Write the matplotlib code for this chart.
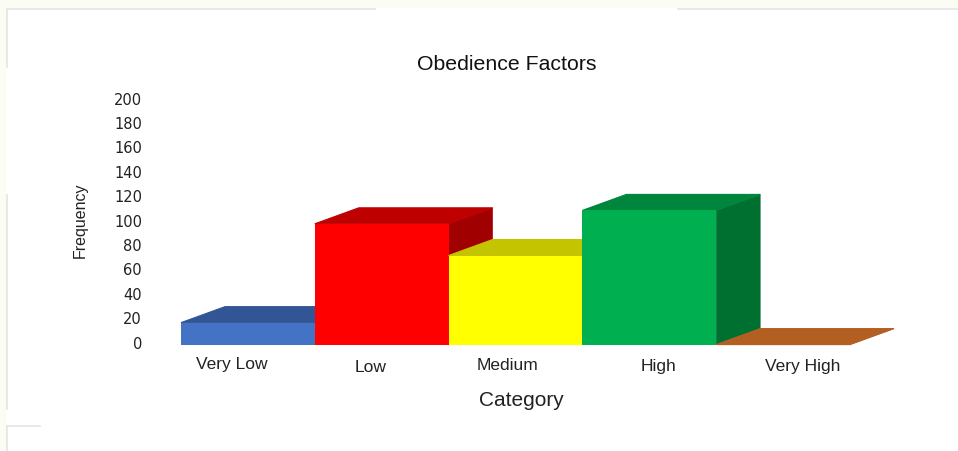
import matplotlib
matplotlib.use('Agg')
import matplotlib.pyplot as plt
from matplotlib.lines import Line2D
from matplotlib.patches import Polygon, Rectangle
from matplotlib.transforms import ScaledTranslation

categories = ['Very Low', 'Low', 'Medium', 'High', 'Very High']
values = [18, 99, 73, 110, 0]
y_ticks = list(range(0, 201, 20))

front_colors = ['#4472C4', '#FF0000', '#FFFF00', '#00B050', '#C55A11']
top_colors = ['#325595', '#BF0000', '#C4C400', '#00863C', '#B45F22']
side_colors = ['#2A4A80', '#A00000', '#A8A800', '#007030', '#B45F22']

W, H = 958, 452
plt.rcParams['font.family'] = ['Liberation Sans', 'DejaVu Sans']

fig = plt.figure(figsize=(W / 100, H / 100), dpi=100, facecolor='#FBFCF4')

# white sheet behind the chart
fig.add_artist(Rectangle((6 / W, 0), 952 / W, 1 - 9 / H, transform=fig.transFigure,
                         facecolor='white', edgecolor='none', zorder=-2))


def shadow(x0, y0, x1, y1):
    fig.add_artist(Line2D([x0 / W, x1 / W], [1 - y0 / H, 1 - y1 / H], transform=fig.transFigure,
                          color='#E4E4E4', lw=1.2, zorder=-1))


# leftovers of the sheet border
shadow(7, 10, 375, 10)
shadow(678, 10, 958, 10)
shadow(7, 10, 7, 68)
shadow(7, 196, 7, 410)
shadow(7, 427, 7, 452)
shadow(7, 427, 40, 427)

# plot area: bars 181-850 px wide, 0 near y=345, 1.22 px per unit
px_per_bar = 133.8
px_per_unit = 1.22
left = 181
base = 345.6
ax = fig.add_axes([left / W, 1 - base / H, 5 * px_per_bar / W, 200 * px_per_unit / H])
ax.set_xlim(-0.5, 4.5)
ax.set_ylim(0, 200)
ax.patch.set_alpha(0)
for s in ax.spines.values():
    s.set_visible(False)

dx = 44 / px_per_bar
dy = 16 / px_per_unit

# tops and sides first, then the front faces over them
for i, v in enumerate(values):
    x0, x1 = i - 0.5, i + 0.5
    ax.add_patch(Polygon([(x1, v), (x1 + dx, v + dy), (x1 + dx, dy), (x1, 0)],
                         facecolor=side_colors[i], edgecolor=side_colors[i], lw=0.4, clip_on=False, zorder=2 + i))
    ax.add_patch(Polygon([(x0, v), (x0 + dx, v + dy), (x1 + dx, v + dy), (x1, v)],
                         facecolor=top_colors[i], edgecolor=top_colors[i], lw=0.8, clip_on=False, zorder=2 + i))
    ax.bar(i, v, width=1, color=front_colors[i], zorder=2.5 + i)

ax.set_yticks(y_ticks)
ax.set_yticklabels([str(t) for t in y_ticks], fontsize=10.5, color='#222222', family='DejaVu Sans')
ax.tick_params(axis='y', length=0, pad=28)
ax.set_xticks([])
# tick labels sit a little above their value
shift = ScaledTranslation(0, 3 / 100, fig.dpi_scale_trans)
for lab in ax.get_yticklabels():
    lab.set_transform(lab.get_transform() + shift)

# category labels sit a little off centre in the original
label_dx = [-16, -11, -8, 9, 20]
label_y = [364, 368, 366, 366, 366]
for i, name in enumerate(categories):
    fig.text((left + (i + 0.5) * px_per_bar + label_dx[i]) / W, 1 - label_y[i] / H, name,
             ha='center', va='center', fontsize=12.5, color='#222222')

fig.text(507 / W, 1 - 65 / H, 'Obedience Factors', ha='center', va='center', fontsize=15.3, color='#111111')
fig.text(521 / W, 1 - 400 / H, 'Category', ha='center', va='center', fontsize=15, color='#222222')
fig.text(80 / W, 1 - 220 / H, 'Frequency', ha='center', va='center', rotation=90, fontsize=11.5, color='#222222')

fig.savefig('out.png', dpi=100, facecolor=fig.get_facecolor())
